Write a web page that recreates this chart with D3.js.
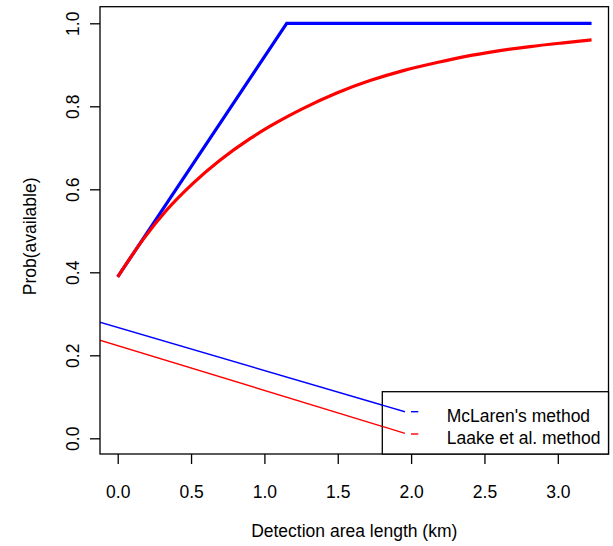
<!DOCTYPE html>
<html>
<head>
<meta charset="utf-8">
<script src="https://cdn.jsdelivr.net/npm/d3@7"></script>
<style>
  body { margin: 0; background: #fff; }
  svg { display: block; font-family: "Liberation Sans", Arial, sans-serif; }
</style>
</head>
<body>
<div id="chart"></div>
<script>
// values
var xTicks = [0.0, 0.5, 1.0, 1.5, 2.0, 2.5, 3.0];
var yTicks = [0.0, 0.2, 0.4, 0.6, 0.8, 1.0];

var mclarenX = [0, 1.152, 3.23];
var mclarenY = [0.389, 1.0, 1.0];

var laakeX = [0, 0.175, 0.334, 0.515, 0.697, 0.902, 1.039, 1.265, 1.493, 1.72, 1.947, 2.185, 2.356, 2.584, 2.811, 3.038, 3.23];
var laakeY = [0.389, 0.48, 0.55, 0.615, 0.67, 0.722, 0.752, 0.795, 0.832, 0.862, 0.886, 0.906, 0.919, 0.933, 0.944, 0.953, 0.96];

// the two thin straight lines
var thinX = [-0.2, 1.958];
var thinBlueY = [0.288, 0.064];
var thinRedY = [0.245, 0.012];

var legendLabels = ["McLaren's method", "Laake et al. method"];
var colors = ["#0000ff", "#ff0000"];

var fontSize = "17.5px";

var width = 613, height = 546;
var margin = {top: 6.7, right: 4.5, bottom: 92, left: 100};
var w = width - margin.left - margin.right;
var h = height - margin.top - margin.bottom;

var x = d3.scaleLinear().domain([-0.1207, 3.3456]).range([0, w]);
var y = d3.scaleLinear().domain([-0.0378, 1.04]).range([h, 0]);

var svg = d3.select("#chart").append("svg")
  .attr("width", width)
  .attr("height", height);

svg.append("defs").append("clipPath")
  .attr("id", "plotclip")
  .append("rect")
  .attr("width", w)
  .attr("height", h);

var g = svg.append("g")
  .attr("transform", "translate(" + margin.left + "," + margin.top + ")");

var line = d3.line()
  .x(function(d) { return x(d[0]); })
  .y(function(d) { return y(d[1]); });

var smooth = d3.line()
  .curve(d3.curveMonotoneX)
  .x(function(d) { return x(d[0]); })
  .y(function(d) { return y(d[1]); });

var plot = g.append("g").attr("clip-path", "url(#plotclip)");

// thin lines
plot.append("path")
  .attr("d", line(d3.zip(thinX, thinBlueY)))
  .attr("fill", "none")
  .attr("stroke", colors[0])
  .attr("stroke-width", 1.4);
plot.append("path")
  .attr("d", line(d3.zip(thinX, thinRedY)))
  .attr("fill", "none")
  .attr("stroke", colors[1])
  .attr("stroke-width", 1.4);

// thick curves
plot.append("path")
  .attr("d", line(d3.zip(mclarenX, mclarenY)))
  .attr("fill", "none")
  .attr("stroke", colors[0])
  .attr("stroke-width", 3.2);
plot.append("path")
  .attr("d", smooth(d3.zip(laakeX, laakeY)))
  .attr("fill", "none")
  .attr("stroke", colors[1])
  .attr("stroke-width", 3.2);

// axes
var xAxis = g.append("g")
  .attr("transform", "translate(0," + h + ")")
  .call(d3.axisBottom(x).tickValues(xTicks).tickFormat(d3.format(".1f")).tickSize(10).tickSizeOuter(0));
xAxis.select(".domain").remove();
xAxis.selectAll("line").attr("stroke", "#000").attr("stroke-width", 1.3);
xAxis.selectAll("text")
  .attr("y", 43.7)
  .attr("dy", 0)
  .attr("fill", "#000")
  .style("font-size", fontSize)
  .style("font-family", "Liberation Sans, Arial, sans-serif");

var yAxis = g.append("g")
  .call(d3.axisLeft(y).tickValues(yTicks).tickFormat(d3.format(".1f")).tickSize(10).tickSizeOuter(0));
yAxis.select(".domain").remove();
yAxis.selectAll("line").attr("stroke", "#000").attr("stroke-width", 1.3);
yAxis.selectAll("text")
  .attr("transform", "rotate(-90)")
  .attr("x", 0)
  .attr("y", -21.5)
  .attr("dy", 0)
  .attr("text-anchor", "middle")
  .attr("fill", "#000")
  .style("font-size", fontSize)
  .style("font-family", "Liberation Sans, Arial, sans-serif");

// box
g.append("rect")
  .attr("width", w)
  .attr("height", h)
  .attr("fill", "none")
  .attr("stroke", "#000")
  .attr("stroke-width", 1.3);

// axis titles
svg.append("text")
  .attr("x", margin.left + w / 2)
  .attr("y", 537)
  .attr("text-anchor", "middle")
  .style("font-size", fontSize)
  .text("Detection area length (km)");

svg.append("text")
  .attr("transform", "translate(35.5," + (margin.top + h / 2 + 6) + ") rotate(-90)")
  .attr("text-anchor", "middle")
  .style("font-size", fontSize)
  .text("Prob(available)");

// legend
var legend = g.append("g")
  .attr("transform", "translate(" + (382.3 - margin.left) + "," + (391.7 - margin.top) + ")");
legend.append("rect")
  .attr("width", w - (382.3 - margin.left))
  .attr("height", h - (391.7 - margin.top))
  .attr("fill", "#fff")
  .attr("stroke", "#000")
  .attr("stroke-width", 1.3);

var items = legend.selectAll("g.item")
  .data(legendLabels)
  .enter().append("g")
  .attr("class", "item")
  .attr("transform", function(d, i) { return "translate(0," + (i * 22.3) + ")"; });
items.append("line")
  .attr("x1", 28.7).attr("x2", 36)
  .attr("y1", 20).attr("y2", 20)
  .attr("stroke", function(d, i) { return colors[i]; })
  .attr("stroke-width", 1.4);
items.append("text")
  .attr("x", 64.4)
  .attr("y", 30)
  .style("font-size", fontSize)
  .text(function(d) { return d; });

// redraw the thin line ends over the legend box
var ends = g.append("g");
[thinBlueY, thinRedY].forEach(function(ys, i) {
  var x0 = 382.3 - margin.left;
  var t = (x.invert(x0) - thinX[0]) / (thinX[1] - thinX[0]);
  ends.append("line")
    .attr("x1", x0)
    .attr("y1", y(ys[0] + t * (ys[1] - ys[0])))
    .attr("x2", x(thinX[1]))
    .attr("y2", y(ys[1]))
    .attr("stroke", colors[i])
    .attr("stroke-width", 1.4);
});
</script>
</body>
</html>
